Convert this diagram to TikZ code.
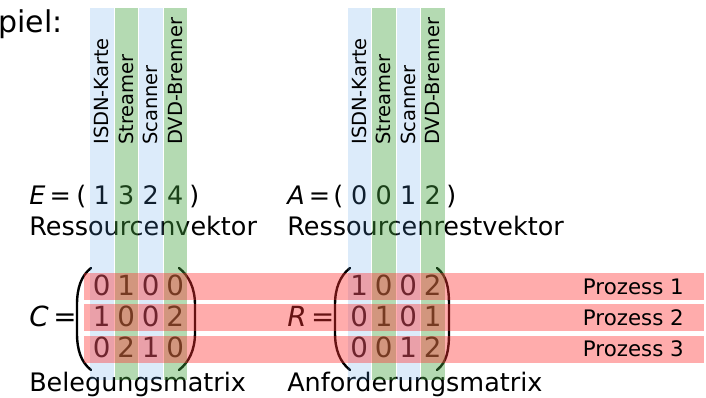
\documentclass[tikz,border=0pt]{standalone}
\usepackage{fontspec}
\setmainfont{DejaVu Sans}[ItalicFont=DejaVu Sans Oblique]
\usepackage{tikz}
\definecolor{colblue}{RGB}{80,155,230}
\definecolor{colgreen}{RGB}{68,163,63}
\definecolor{rowred}{RGB}{255,48,48}
\usetikzlibrary{positioning}

\begin{document}
\begin{tikzpicture}[x=0.75pt, y=-0.75pt,
    txt/.style={inner sep=0pt, font=\fontsize{19.1}{23}\selectfont},
    big/.style={inner sep=0pt, font=\fontsize{20.8}{25}\selectfont},
    res/.style={inner sep=0pt, rotate=90, anchor=base west, font=\fontsize{14.6}{17}\selectfont},
    proc/.style={inner sep=0pt, anchor=base east, font=\fontsize{16}{19}\selectfont},
    paren/.style={line width=1.8pt, line cap=round},
    bluecol/.style={fill=colblue, fill opacity=0.2},
    greencol/.style={fill=colgreen, fill opacity=0.4},
    redrow/.style={fill=rowred, fill opacity=0.4}]

    \useasboundingbox (0,0) rectangle (706,398);

    \node[inner sep=0pt, anchor=base west, font=\fontsize{22.5}{26}\selectfont] (title) at (-2,33) {piel:};

    % vectors
    \node[txt, anchor=base west] (Elabel) at (29,205) {\textit{E}\,=};
    \node[txt, anchor=base west] (Eopen) at (76,205) {(};
    \foreach \d [count=\i from 0] in {1,3,2,4}
        \node[txt, anchor=base] (E\i) at ({101.75+24.5*\i},205) {\d};
    \node[txt, anchor=base west] (Eclose) at (189,205) {)};
    \node[txt, anchor=base west] (Ename) at (29,236) {Ressourcenvektor};

    \node[txt, anchor=base west] (Alabel) at (287,205) {\textit{A}\,=};
    \node[txt, anchor=base west] (Aopen) at (333,205) {(};
    \foreach \d [count=\i from 0] in {0,0,1,2}
        \node[txt, anchor=base] (A\i) at ({359.25+24.5*\i},205) {\d};
    \node[txt, anchor=base west] (Aclose) at (446,205) {)};
    \node[txt, anchor=base west] (Aname) at (287,236) {Ressourcenrestvektor};

    % matrices
    \node[big, anchor=base west] (Clabel) at (29,327) {\textit{C}\,=};
    \foreach \row [count=\r from 0] in {{0,1,0,0},{1,0,0,2},{0,2,1,0}}
        \foreach \d [count=\i from 0] in \row
            \node[big, anchor=base] (C\r\i) at ({101.75+24.5*\i},{296+31*\r}) {\d};
    \draw[paren] (91,268) .. controls (81,276) and (77,288) .. (77,305) -- (77,333) .. controls (77,350) and (81,362) .. (91,370);
    \draw[paren] (179,268) .. controls (189,276) and (195,288) .. (195,305) -- (195,333) .. controls (195,350) and (189,362) .. (179,370);
    \node[txt, anchor=base west] (Cname) at (29,392) {Belegungsmatrix};

    \node[big, anchor=base west] (Rlabel) at (287,327) {\textit{R}\,=};
    \foreach \row [count=\r from 0] in {{1,0,0,2},{0,1,0,1},{0,0,1,2}}
        \foreach \d [count=\i from 0] in \row
            \node[big, anchor=base] (R\r\i) at ({359.25+24.5*\i},{296+31*\r}) {\d};
    \draw[paren] (350,268) .. controls (340,276) and (335,288) .. (335,305) -- (335,333) .. controls (335,350) and (340,362) .. (350,370);
    \draw[paren] (437,268) .. controls (447,276) and (449,288) .. (449,305) -- (449,333) .. controls (449,350) and (447,362) .. (437,370);
    \node[txt, anchor=base west] (Rname) at (287,392) {Anforderungsmatrix};

    % resource columns
    \foreach \x in {90,347.5} {
        \foreach \i in {0,2}
            \fill[bluecol] ({\x+24.5*\i},8) rectangle +(23.5,372);
        \foreach \i in {1,3}
            \fill[greencol] ({\x+24.5*\i},8) rectangle +(23.5,372);
    }

    % process rows
    \foreach \y in {273,304.5,336}
        \fill[redrow] (84,\y) rectangle (704,{\y+27});

    \foreach \name [count=\i from 0] in {ISDN-Karte,Streamer,Scanner,DVD-Brenner} {
        \node[res] (resE\i) at ({108.75+24.5*\i},145) {\name};
        \node[res] (resA\i) at ({366.25+24.5*\i},145) {\name};
    }
    \foreach \p [count=\r from 0] in {1,2,3}
        \node[proc] (P\p) at (684,{295+31*\r}) {Prozess \p};
\end{tikzpicture}
\end{document}
